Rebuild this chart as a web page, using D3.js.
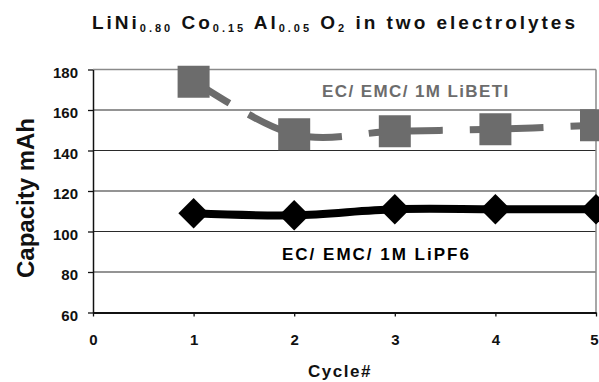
<!DOCTYPE html>
<html>
<head>
<meta charset="utf-8">
<script src="https://cdn.jsdelivr.net/npm/d3@7"></script>
<style>
  html, body { margin: 0; padding: 0; background: #fff; }
  svg { display: block; font-family: "Liberation Sans", Arial, sans-serif; font-weight: bold; }
</style>
</head>
<body>
<div id="chart"></div>
<script>
// Values
const cycles = [1, 2, 3, 4, 5];
const libeti = [174, 148, 149.5, 150.5, 152.5];
const lipf6 = [109, 108, 111, 111, 111];
const xTicks = [0, 1, 2, 3, 4, 5];
const yTicks = [60, 80, 100, 120, 140, 160, 180];
const titleParts = [
  ["LiNi", false], ["0.80", true], [" Co", false], ["0.15", true],
  [" Al", false], ["0.05", true], [" O", false], ["2", true],
  [" in two electrolytes", false],
];

const width = 599;
const height = 382;
const grey = "#6c6c6c";

const svg = d3
  .select("#chart")
  .append("svg")
  .attr("width", width)
  .attr("height", height);

const x = d3.scaleLinear().domain([0, 5]).range([93, 596]);
const y = d3.scaleLinear().domain([60, 180]).range([312.5, 69.5]);

// Gridlines (the top one is the plot frame)
svg
  .append("g")
  .selectAll("line")
  .data(yTicks.filter((t) => t > 60))
  .join("line")
  .attr("x1", x(0))
  .attr("x2", x(5))
  .attr("y1", (d) => y(d))
  .attr("y2", (d) => y(d))
  .attr("stroke", (d) => (d === 180 ? "#8a8a8a" : "#2a2a2a"))
  .attr("stroke-width", (d) => (d === 180 ? 1.5 : 1.2));

// Right frame edge
svg
  .append("line")
  .attr("x1", x(5))
  .attr("x2", x(5))
  .attr("y1", y(180))
  .attr("y2", y(60))
  .attr("stroke", "#8a8a8a")
  .attr("stroke-width", 1.5);

// Y axis
const yAxis = svg
  .append("g")
  .attr("transform", `translate(${x(0)},0)`)
  .call(d3.axisLeft(y).tickValues(yTicks).tickSize(5).tickSizeOuter(0));
yAxis.select(".domain").attr("stroke", "#111").attr("stroke-width", 1.5);
yAxis.selectAll(".tick line").attr("stroke", "#111").attr("stroke-width", 1.3);
yAxis
  .selectAll(".tick text")
  .attr("x", -15)
  .attr("dy", "0.5em")
  .attr("font-size", 15)
  .attr("font-family", "Liberation Sans, Arial, sans-serif")
  .attr("font-weight", "bold")
  .attr("fill", "#111");

// X axis
const xAxis = svg
  .append("g")
  .attr("transform", `translate(0,${y(60)})`)
  .call(
    d3
      .axisBottom(x)
      .tickValues(xTicks)
      .tickFormat(d3.format("d"))
      .tickSize(4)
      .tickSizeOuter(0),
  );
xAxis.select(".domain").attr("stroke", "#111").attr("stroke-width", 1.8);
xAxis.selectAll(".tick line").attr("stroke", "#111").attr("stroke-width", 1.3);
xAxis
  .selectAll(".tick text")
  .attr("y", 22)
  .attr("dy", "0.71em")
  .attr("font-size", 15)
  .attr("font-family", "Liberation Sans, Arial, sans-serif")
  .attr("font-weight", "bold")
  .attr("fill", "#111");
// last label sits at the picture edge; keep it inside
xAxis
  .selectAll(".tick text")
  .filter((d) => d === 5)
  .attr("text-anchor", "end")
  .attr("x", 2);

// LiBETI series: smoothed, long-dash pattern restarting on each segment
const greyPts = cycles.map((c, i) => [x(c), y(libeti[i])]);
const segPath = (pts, i) => {
  const p0 = pts[Math.max(i - 1, 0)];
  const p1 = pts[i];
  const p2 = pts[i + 1];
  const p3 = pts[Math.min(i + 2, pts.length - 1)];
  const p = d3.path();
  p.moveTo(p1[0], p1[1]);
  p.bezierCurveTo(
    p1[0] + (p2[0] - p0[0]) / 6, p1[1] + (p2[1] - p0[1]) / 6,
    p2[0] - (p3[0] - p1[0]) / 6, p2[1] - (p3[1] - p1[1]) / 6,
    p2[0], p2[1]
  );
  return p.toString();
};

svg
  .append("g")
  .selectAll("path")
  .data(d3.range(greyPts.length - 1))
  .join("path")
  .attr("d", (i) => segPath(greyPts, i))
  .attr("fill", "none")
  .attr("stroke", grey)
  .attr("stroke-width", 7)
  .attr("stroke-dasharray", (i) => (i === 0 ? "42,22" : "48,27"));

svg
  .append("g")
  .selectAll("path")
  .data(cycles)
  .join("path")
  .attr("d", d3.symbol(d3.symbolSquare, 32 * 32))
  .attr("transform", (d, i) => `translate(${x(d)},${y(libeti[i])})`)
  .attr("fill", grey);

// LiPF6 series: smoothed solid line with diamonds
const line = d3
  .line()
  .x((d) => x(d[0]))
  .y((d) => y(d[1]))
  .curve(d3.curveCardinal.tension(0));

svg
  .append("path")
  .datum(cycles.map((c, i) => [c, lipf6[i]]))
  .attr("d", line)
  .attr("fill", "none")
  .attr("stroke", "#000")
  .attr("stroke-width", 8);

svg
  .append("g")
  .selectAll("path")
  .data(cycles)
  .join("path")
  .attr("d", d3.symbol(d3.symbolSquare, 21.5 * 21.5))
  .attr("transform", (d, i) => `translate(${x(d)},${y(lipf6[i])}) rotate(45)`)
  .attr("fill", "#000");

// Series labels
svg
  .append("text")
  .attr("x", 322)
  .attr("y", 97)
  .attr("font-size", 17)
  .attr("letter-spacing", 1.4)
  .attr("fill", grey)
  .text("EC/ EMC/ 1M LiBETI");

svg
  .append("text")
  .attr("x", 282)
  .attr("y", 260)
  .attr("font-size", 17)
  .attr("letter-spacing", 2)
  .attr("fill", "#000")
  .text("EC/ EMC/ 1M LiPF6");

// Title with subscripts
const title = svg
  .append("text")
  .attr("x", 92)
  .attr("y", 29)
  .attr("textLength", 483)
  .attr("lengthAdjust", "spacing")
  .attr("fill", "#111");
title
  .selectAll("tspan")
  .data(titleParts)
  .join("tspan")
  .attr("font-size", (d) => (d[1] ? 11 : 19))
  .attr("dy", (d, i) => {
    if (d[1]) return 3;
    return i > 0 ? -3 : 0;
  })
  .text((d) => d[0]);

// Axis titles
svg
  .append("text")
  .attr("transform", "translate(34,198) rotate(-90)")
  .attr("text-anchor", "middle")
  .attr("font-size", 24)
  .attr("fill", "#111")
  .text("Capacity mAh");

svg
  .append("text")
  .attr("x", 340)
  .attr("y", 377)
  .attr("text-anchor", "middle")
  .attr("font-size", 17)
  .attr("letter-spacing", 1.5)
  .attr("fill", "#111")
  .text("Cycle#");
</script>
</body>
</html>
